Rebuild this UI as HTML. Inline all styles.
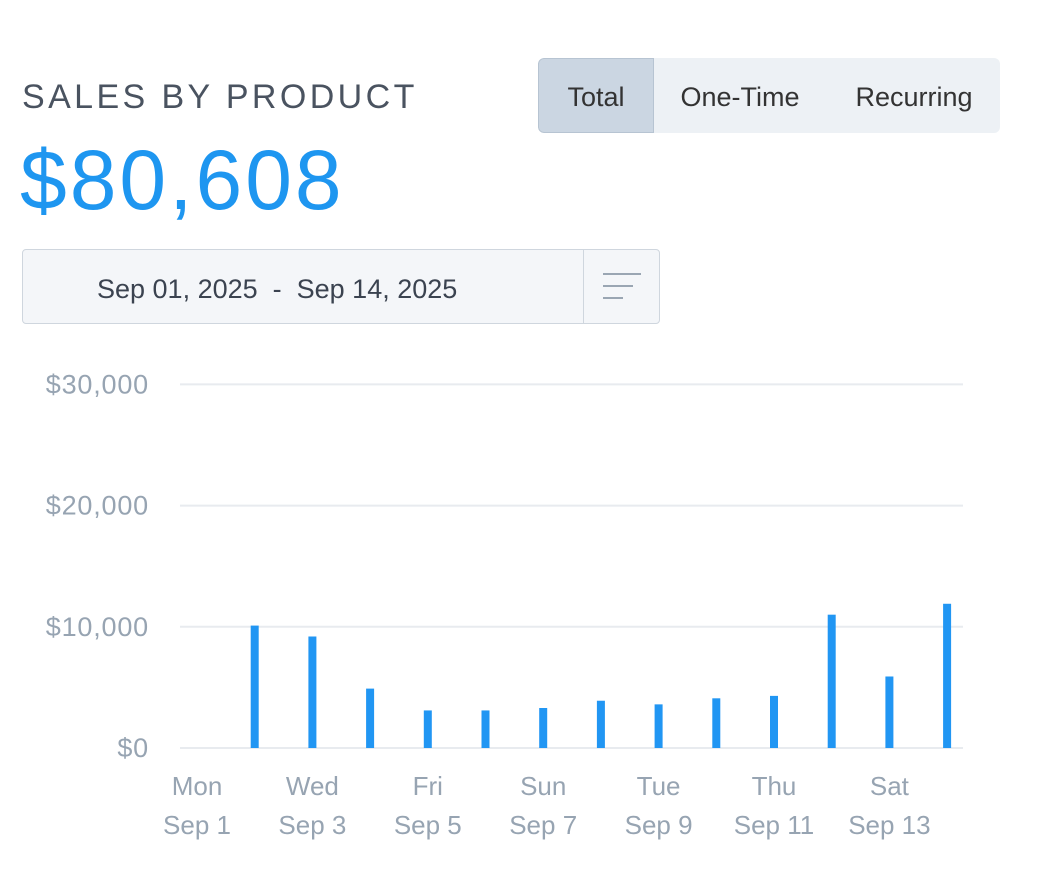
<!DOCTYPE html>
<html><head><meta charset="utf-8"><style>
body{margin:0;width:1058px;height:896px;background:#fff;font-family:"Liberation Sans",sans-serif;position:relative;overflow:hidden}
.t{position:absolute}
</style></head><body>
<div class="t" style="left:22px;top:78px;font-size:34px;letter-spacing:3.4px;color:#4a5360">SALES BY PRODUCT</div>
<div class="t" style="left:20px;top:132px;font-size:84px;color:#1e96f0;letter-spacing:3px">$80,608</div>
<div class="t" style="left:538px;top:58px;width:462px;height:75px;background:#edf1f5;border-radius:6px;overflow:hidden">
 <div class="t" style="left:0;top:0;width:114px;height:73px;background:#cbd6e2;border:1px solid #b7c4d2;border-radius:6px 0 0 6px;line-height:77px;text-align:center;font-size:27px;color:#333">Total</div>
 <div class="t" style="left:116px;top:0;width:172px;line-height:79px;text-align:center;font-size:27px;color:#333">One-Time</div>
 <div class="t" style="left:290px;top:0;width:172px;line-height:79px;text-align:center;font-size:27px;color:#333">Recurring</div>
</div>
<div class="t" style="left:22px;top:249px;width:636px;height:73px;background:#f4f6f9;border:1px solid #cfd6de;border-radius:4px">
 <div class="t" style="left:74px;top:24px;font-size:27px;color:#3b4350">Sep 01, 2025&nbsp;&nbsp;-&nbsp;&nbsp;Sep 14, 2025</div>
 <div class="t" style="left:560px;top:0;width:76px;height:73px;border-left:1px solid #cfd6de">
  <div class="t" style="left:19px;top:23px;width:38px;height:2px;background:#9aa6b3"></div>
  <div class="t" style="left:19px;top:35px;width:30px;height:2px;background:#9aa6b3"></div>
  <div class="t" style="left:19px;top:47px;width:20px;height:2px;background:#9aa6b3"></div>
 </div>
</div>
<svg id="chart" class="t" style="left:0;top:0" width="1058" height="896"></svg>
<script>
const days=["Sep 1","Sep 2","Sep 3","Sep 4","Sep 5","Sep 6","Sep 7","Sep 8","Sep 9","Sep 10","Sep 11","Sep 12","Sep 13","Sep 14"];
const sales=[0,10100,9200,4900,3100,3100,3300,3900,3600,4100,4300,11000,5900,11900];
const yTicks=[0,10000,20000,30000];
const yTickLabels=["$0","$10,000","$20,000","$30,000"];
const xLabelIdx=[0,2,4,6,8,10,12];
const xLabelTop=["Mon","Wed","Fri","Sun","Tue","Thu","Sat"];
const xLabelBottom=["Sep 1","Sep 3","Sep 5","Sep 7","Sep 9","Sep 11","Sep 13"];
const svg=document.getElementById('chart');const NS="http://www.w3.org/2000/svg";
const x=i=>197+i*57.7;const y=v=>748-v*0.01212;
function mk(t,a){const e=document.createElementNS(NS,t);for(const k in a)e.setAttribute(k,a[k]);svg.appendChild(e);return e;}
yTicks.forEach((v,i)=>{
 const l=mk('line',{x1:180,x2:963,y1:y(v),y2:y(v),stroke:'#e8ebef','stroke-width':2});
 
 
 const t=mk('text',{x:149,y:y(v)+9,'text-anchor':'end','font-size':27,'letter-spacing':0.8,fill:'#97a4b2','font-family':'Liberation Sans, sans-serif'});
 t.textContent=yTickLabels[i];
 
 
});
sales.forEach((v,i)=>{
 if(v<=0)return;
 const r=mk('rect',{x:x(i)-4,y:y(v),width:8,height:748-y(v),fill:'#2196f3'});
 
 
});
xLabelIdx.forEach((d,i)=>{
 const t=mk('text',{x:x(d),y:795,'text-anchor':'middle','font-size':26,fill:'#97a4b2','font-family':'Liberation Sans, sans-serif'});
 t.textContent=xLabelTop[i];
 
 
 const b=mk('text',{x:x(d),y:834,'text-anchor':'middle','font-size':26,fill:'#97a4b2','font-family':'Liberation Sans, sans-serif'});
 b.textContent=xLabelBottom[i];
 
 
});
</script>
</body></html>
